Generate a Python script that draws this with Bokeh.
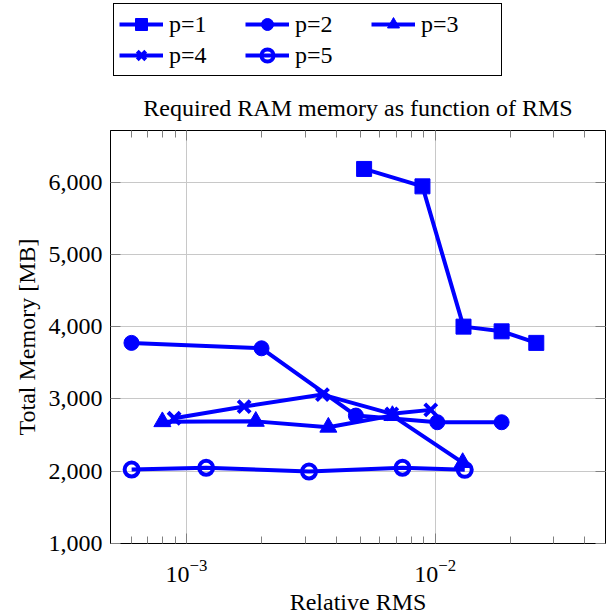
from bokeh.plotting import figure
from bokeh.layouts import column
from bokeh.models import (LogAxis, LinearAxis, FixedTicker, SingleIntervalTicker, NumeralTickFormatter,
                          LogTickFormatter, Legend, LegendItem, CustomJSTickFormatter, Range1d)
from bokeh.embed import file_html
from bokeh.resources import INLINE

# ---- data ----
series_labels = ["p=1", "p=2", "p=3", "p=4", "p=5"]
p1_rms = [0.00518, 0.00889, 0.0130, 0.0185, 0.0255]
p1_mem = [6183, 5942, 4001, 3936, 3776]
p2_rms = [0.000601, 0.002004, 0.0048, 0.0102, 0.0185]
p2_mem = [3776, 3701, 2770, 2678, 2678]
p3_rms = [0.0008, 0.0019, 0.00372, 0.00673, 0.0129]
p3_mem = [2685, 2690, 2609, 2770, 2120]
p4_rms = [0.000892, 0.001706, 0.003523, 0.00669, 0.0096]
p4_mem = [2733, 2895, 3061, 2794, 2849]
p5_rms = [0.000602, 0.0012, 0.00311, 0.00739, 0.01315]
p5_mem = [2023, 2047, 1996, 2047, 2019]

x_major_ticks = [1e-3, 1e-2]
x_minor_ticks = [6e-4, 7e-4, 8e-4, 9e-4,
                 2e-3, 3e-3, 4e-3, 5e-3, 6e-3, 7e-3, 8e-3, 9e-3,
                 2e-2, 3e-2, 4e-2]

FONT = "Liberation Serif"
FS = "24px"
BLUE = "#0000ff"

# ---------------- main plot ----------------
p = figure(frame_width=495, frame_height=413, x_axis_type="log",
           x_range=Range1d(4.95e-4, 0.0484), y_range=Range1d(1000, 6715),
           output_backend="svg", toolbar_location=None,
           title="Required RAM memory as function of RMS",
           min_border_left=108, min_border_right=2, min_border_top=54, min_border_bottom=0)
p.title.text_font = FONT
p.title.text_font_size = FS
p.title.text_font_style = "normal"
p.title.text_color = "black"
p.title.align = "center"
p.title.standoff = 20
p.outline_line_color = "black"
p.outline_line_width = 1
p.outline_line_alpha = 1

xa = p.xaxis[0]
xa.ticker = FixedTicker(ticks=x_major_ticks, minor_ticks=x_minor_ticks)
xa.formatter = LogTickFormatter()
ya = p.yaxis[0]
ya.ticker = SingleIntervalTicker(interval=1000)
ya.formatter = NumeralTickFormatter(format="0,0")
for ax in (xa, ya):
    ax.major_label_text_font = FONT
    ax.major_label_text_font_size = FS
    ax.major_label_text_color = "black"
    ax.axis_label_text_font = FONT
    ax.axis_label_text_font_size = FS
    ax.axis_label_text_font_style = "normal"
    ax.axis_label_text_color = "black"
    ax.major_tick_in = 10
    ax.major_tick_out = 0
    ax.minor_tick_in = 7
    ax.minor_tick_out = 0
    ax.major_tick_line_color = "#808080"
    ax.minor_tick_line_color = "#808080"
    ax.axis_line_color = "black"
ya.minor_tick_line_color = None
xa.axis_label = "Relative RMS"
ya.axis_label = "Total Memory [MB]"
xa.major_label_standoff = 16
ya.major_label_standoff = 8
xa.axis_label_standoff = 4
ya.axis_label_standoff = 6

empty = CustomJSTickFormatter(code="return ''")
top = LogAxis(ticker=FixedTicker(ticks=x_major_ticks, minor_ticks=x_minor_ticks), formatter=empty,
              major_tick_in=10, major_tick_out=0, minor_tick_in=7, minor_tick_out=0,
              major_label_standoff=0, major_label_text_font_size="1px",
              major_tick_line_color="#808080", minor_tick_line_color="#808080",
              axis_line_color=None)
right = LinearAxis(ticker=SingleIntervalTicker(interval=1000), formatter=empty,
                   major_tick_in=10, major_tick_out=0, minor_tick_line_color=None,
                   major_label_standoff=0, major_label_text_font_size="1px",
                   major_tick_line_color="#808080", axis_line_color=None)
p.add_layout(top, "above")
p.add_layout(right, "right")

p.xgrid.grid_line_color = "#c8c8c8"
p.ygrid.grid_line_color = "#c8c8c8"

# ---------------- legend strip (same series, plotted outside its visible range) ----------------
lg = figure(frame_width=400, frame_height=76, output_backend="svg", toolbar_location=None,
            x_axis_location=None, y_axis_location=None,
            min_border_left=110, min_border_right=94, min_border_top=0, min_border_bottom=0,
            x_range=Range1d(0, 1), y_range=Range1d(0, 1))
lg.title = None
lg.outline_line_color = None
lg.xgrid.visible = False
lg.ygrid.visible = False

specs = [
    ("square", 15, BLUE),
    ("circle", 15, BLUE),
    ("triangle", 17, BLUE),
    ("x", 17, BLUE),
    ("circle", 14, None),
]
all_x = [p1_rms, p2_rms, p3_rms, p4_rms, p5_rms]
all_y = [p1_mem, p2_mem, p3_mem, p4_mem, p5_mem]


def draw(fig, xs, ys, mk, sz, fill):
    ln = fig.line(xs, ys, line_color=BLUE, line_width=4)
    if fill is None:
        sc = fig.scatter(xs, ys, marker=mk, size=sz, fill_color=None, line_color=BLUE, line_width=4)
    elif mk == "x":
        sc = fig.scatter(xs, ys, marker=mk, size=sz, line_color=BLUE, line_width=4)
    else:
        sc = fig.scatter(xs, ys, marker=mk, size=sz, fill_color=BLUE, line_color=BLUE, line_width=1)
    return ln, sc


items = []
for lab, xs, ys, (mk, sz, fill) in zip(series_labels, all_x, all_y, specs):
    draw(p, xs, ys, mk, sz, fill)
    ln, sc = draw(lg, xs, ys, mk, sz, fill)
    items.append(LegendItem(label=lab, renderers=[ln, sc]))

legend = Legend(items=items, orientation="horizontal", ncols=3, location="top_left",
                label_text_font=FONT, label_text_font_size=FS, label_text_color="black",
                glyph_width=44, glyph_height=30, label_width=75, label_height=24,
                label_standoff=6, spacing=1, padding=5, margin=3,
                border_line_color="black", border_line_width=1, border_line_alpha=1,
                background_fill_color="white", background_fill_alpha=1)
lg.add_layout(legend, "center")

layout = column(lg, p, spacing=0)
open("out.html", "w").write(file_html(layout, INLINE))
